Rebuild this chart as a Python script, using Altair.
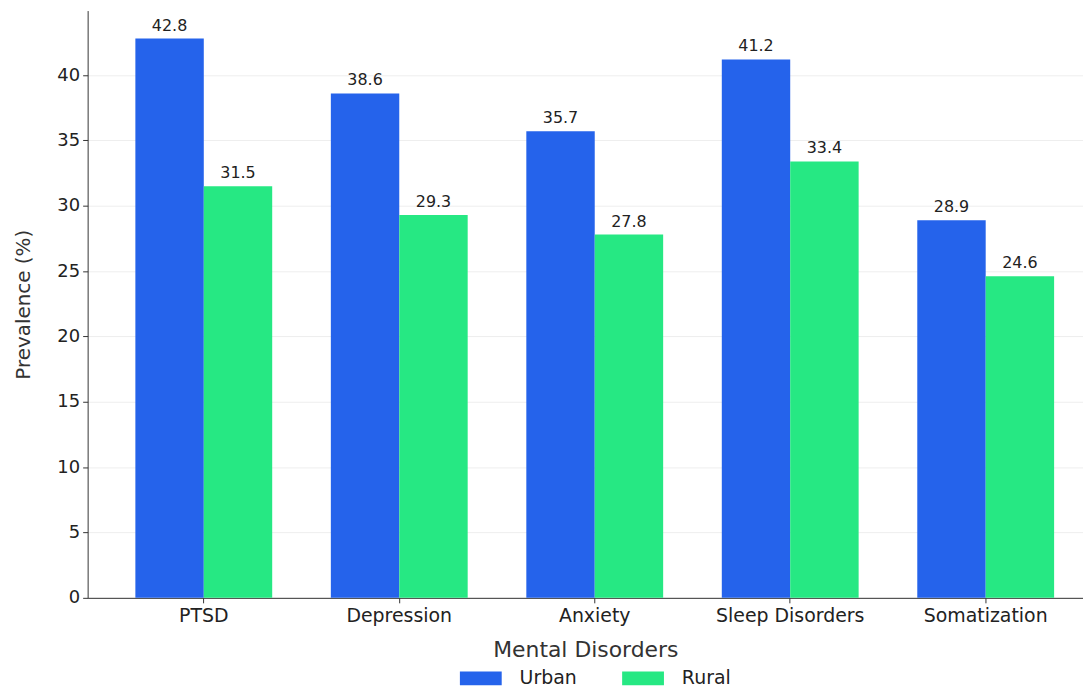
import altair as alt
import pandas as pd

categories = ["PTSD", "Depression", "Anxiety", "Sleep Disorders", "Somatization"]
urban = [42.8, 38.6, 35.7, 41.2, 28.9]
rural = [31.5, 29.3, 27.8, 33.4, 24.6]
groups = ["Urban", "Rural"]
colors = ["#2563eb", "#26e883"]

rows = []
for c, u, r in zip(categories, urban, rural):
    rows.append({"Disorder": c, "Area": "Urban", "Value": u, "Label": f"{u:.1f}"})
    rows.append({"Disorder": c, "Area": "Rural", "Value": r, "Label": f"{r:.1f}"})
df = pd.DataFrame(rows)

FONT = "DejaVu Sans"

x = alt.X(
    "Disorder:N",
    sort=categories,
    title="Mental Disorders",
    scale=alt.Scale(paddingInner=0.3, paddingOuter=0.196, align=0.623),
    axis=alt.Axis(
        labelAngle=0, labelFontSize=19, labelColor="#222222", labelPadding=4,
        titleFontSize=22, titleColor="#333333", titlePadding=14, titleFontWeight="normal",
        tickSize=5, tickColor="#333333", domainColor="#333333", grid=False,
    ),
)
xo = alt.XOffset("Area:N", sort=groups, scale=alt.Scale(paddingInner=0, paddingOuter=0))
y = alt.Y(
    "Value:Q",
    title="Prevalence (%)",
    scale=alt.Scale(domain=[0, 44.94], nice=False, zero=True),
    axis=alt.Axis(
        values=list(range(0, 45, 5)), labelFontSize=18, labelColor="#222222", labelPadding=3,
        titleFontSize=20, titleColor="#333333", titlePadding=23, titleFontWeight="normal",
        tickSize=5, tickColor="#333333", domainColor="#333333",
        grid=True, gridColor="#eeeeee", gridWidth=1,
    ),
)

bars = alt.Chart(df).mark_bar().encode(
    x=x, xOffset=xo, y=y,
    color=alt.Color(
        "Area:N", sort=groups, scale=alt.Scale(domain=groups, range=colors),
        legend=alt.Legend(
            title=None, orient="none", direction="horizontal",
            legendX=374, legendY=650,
            symbolType="M-1,-0.33L1,-0.33L1,0.33L-1,0.33Z", symbolSize=1764,
            symbolStrokeWidth=0, symbolOpacity=1,
            labelFontSize=19, labelColor="#222222", labelOffset=18,
            columnPadding=45,
        ),
    ),
)

text = alt.Chart(df).mark_text(baseline="bottom", dy=-5, fontSize=16, color="#222222", font=FONT).encode(
    x=x, xOffset=xo, y=y, text="Label:N",
)

chart = (bars + text).properties(
    width=1000, height=590,
    autosize=alt.AutoSizeParams(type="none"),
    padding={"left": 80, "top": 1, "right": 0, "bottom": 91},
).configure(font=FONT).configure_view(stroke=None).configure_axis(labelFont=FONT, titleFont=FONT)

chart.save("out.html", embed_options={"renderer": "svg", "actions": False})
